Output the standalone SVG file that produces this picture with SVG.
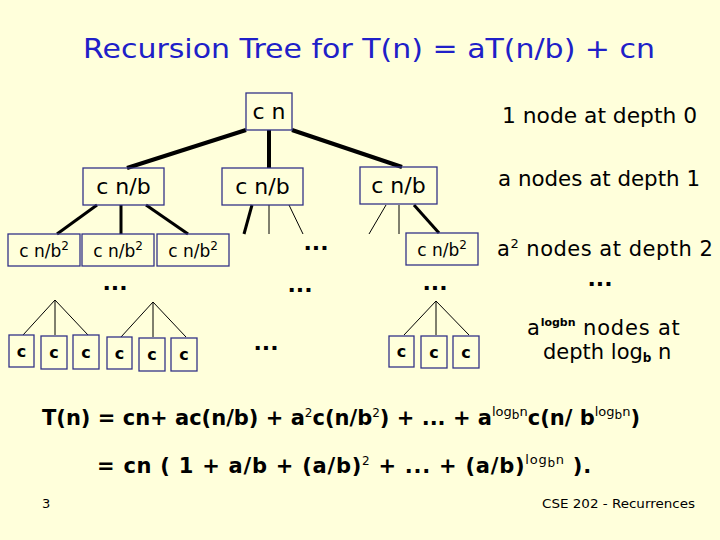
<svg xmlns="http://www.w3.org/2000/svg" width="720" height="540" viewBox="0 0 720 540">
<style>
text{font-family:"DejaVu Sans","Liberation Sans",sans-serif;fill:#000}
.title{fill:#2020c8;font-size:27px}
.box{fill:none;stroke:#333388;stroke-width:1.3}
.n1{font-size:22px;text-anchor:middle}
.n2{font-size:17px;text-anchor:middle}
.leaf{font-size:16px;font-weight:bold;text-anchor:middle}
.thick{stroke:#000;stroke-width:4;fill:none}
.med{stroke:#000;stroke-width:3;fill:none}
.thin{stroke:#000;stroke-width:1;fill:none}
.dots{font-size:22px;font-weight:bold;text-anchor:middle}
.lbl{font-size:21px}
.eq{font-size:21px;font-weight:bold}
.foot{font-size:13px}
</style>
<rect width="720" height="540" fill="#ffffdb"/>
<text class="title" x="83" y="58" textLength="572" lengthAdjust="spacingAndGlyphs">Recursion Tree for T(n) = aT(n/b) + cn</text>

<g id="connectors">
<line class="thick" x1="246" y1="130" x2="127" y2="168"/>
<line class="thick" x1="269" y1="130" x2="269" y2="168"/>
<line class="thick" x1="292" y1="130" x2="402" y2="167"/>
<line class="med" x1="97" y1="205" x2="57" y2="234"/>
<line class="med" x1="121" y1="205" x2="121" y2="234"/>
<line class="med" x1="146" y1="205" x2="188" y2="234"/>
<line class="med" x1="252" y1="205" x2="244" y2="234"/>
<line class="thin" x1="269" y1="205" x2="269" y2="234"/>
<line class="thin" x1="289" y1="205" x2="303" y2="234"/>
<line class="thin" x1="386" y1="205" x2="369" y2="234"/>
<line class="thin" x1="399" y1="205" x2="399" y2="234"/>
<line class="med" x1="414" y1="205" x2="439" y2="233"/>
<line class="thin" x1="55" y1="300" x2="23" y2="335"/>
<line class="thin" x1="55" y1="300" x2="55" y2="335"/>
<line class="thin" x1="55" y1="300" x2="88" y2="335"/>
<line class="thin" x1="153" y1="302" x2="121" y2="337"/>
<line class="thin" x1="153" y1="302" x2="153" y2="337"/>
<line class="thin" x1="153" y1="302" x2="186" y2="337"/>
<line class="thin" x1="436" y1="301" x2="404" y2="335"/>
<line class="thin" x1="436" y1="301" x2="436" y2="335"/>
<line class="thin" x1="436" y1="301" x2="469" y2="335"/>
</g>

<g id="root"><rect class="box" x="246" y="93" width="46" height="37"/><text class="n1" x="269" y="119">c n</text></g>
<g id="d1a"><rect class="box" x="83" y="168" width="81" height="37"/><text class="n1" x="123.5" y="194">c n/b</text></g>
<g id="d1b"><rect class="box" x="222" y="168" width="81" height="37"/><text class="n1" x="262.5" y="194">c n/b</text></g>
<g id="d1c"><rect class="box" x="360" y="167" width="77" height="37"/><text class="n1" x="398.5" y="193">c n/b</text></g>

<g id="d2a"><rect class="box" x="8" y="234" width="72" height="32"/><text class="n2" x="44" y="257">c n/b<tspan dy="-7" font-size="12">2</tspan></text></g>
<g id="d2b"><rect class="box" x="82" y="234" width="72" height="32"/><text class="n2" x="118" y="257">c n/b<tspan dy="-7" font-size="12">2</tspan></text></g>
<g id="d2c"><rect class="box" x="157" y="234" width="72" height="32"/><text class="n2" x="193" y="257">c n/b<tspan dy="-7" font-size="12">2</tspan></text></g>
<g id="d2d"><rect class="box" x="406" y="233" width="72" height="32"/><text class="n2" x="442" y="256">c n/b<tspan dy="-7" font-size="12">2</tspan></text></g>

<g id="leaf1"><rect class="box" x="9" y="335" width="25" height="32"/><text class="leaf" x="21.5" y="357">c</text></g>
<g id="leaf2"><rect class="box" x="41" y="336" width="26" height="33"/><text class="leaf" x="54" y="358">c</text></g>
<g id="leaf3"><rect class="box" x="73" y="335" width="26" height="34"/><text class="leaf" x="86" y="358">c</text></g>
<g id="leaf4"><rect class="box" x="107" y="337" width="25" height="32"/><text class="leaf" x="119.5" y="359">c</text></g>
<g id="leaf5"><rect class="box" x="139" y="338" width="26" height="33"/><text class="leaf" x="152" y="360">c</text></g>
<g id="leaf6"><rect class="box" x="171" y="338" width="26" height="33"/><text class="leaf" x="184" y="360">c</text></g>
<g id="leaf7"><rect class="box" x="389" y="336" width="25" height="31"/><text class="leaf" x="401.5" y="357">c</text></g>
<g id="leaf8"><rect class="box" x="421" y="336" width="26" height="32"/><text class="leaf" x="434" y="358">c</text></g>
<g id="leaf9"><rect class="box" x="453" y="336" width="26" height="32"/><text class="leaf" x="466" y="358">c</text></g>

<text class="dots" x="316" y="250">...</text>
<text class="dots" x="115" y="290">...</text>
<text class="dots" x="300" y="292">...</text>
<text class="dots" x="435" y="290">...</text>
<text class="dots" x="266" y="350">...</text>
<text class="dots" x="600" y="286">...</text>

<text class="lbl" x="502" y="123" textLength="195" lengthAdjust="spacingAndGlyphs">1 node at depth 0</text>
<text class="lbl" x="498" y="186" textLength="202" lengthAdjust="spacingAndGlyphs">a nodes at depth 1</text>
<text class="lbl" x="497" y="256" letter-spacing="0.5">a<tspan font-size="13" dy="-8">2</tspan><tspan dy="8"> nodes at depth 2</tspan></text>
<text class="lbl" x="527" y="335" letter-spacing="0.8">a<tspan font-size="11" font-weight="bold" dy="-9" letter-spacing="0">logbn</tspan><tspan dy="9"> nodes at</tspan></text>
<text class="lbl" x="543" y="359">depth log<tspan font-size="12" font-weight="bold" dy="3">b</tspan><tspan dy="-3"> n</tspan></text>

<text class="eq" x="42" y="425">T(n) = cn+ ac(n/b) + a<tspan font-size="12" font-weight="normal" dy="-8">2</tspan><tspan dy="8">c(n/b</tspan><tspan font-size="12" font-weight="normal" dy="-8">2</tspan><tspan dy="8">) + ... + a</tspan><tspan font-size="13" font-weight="normal" dy="-9">log</tspan><tspan font-size="12" font-weight="normal" dy="3">b</tspan><tspan font-size="13" font-weight="normal" dy="-3">n</tspan><tspan dy="9">c(n/ b</tspan><tspan font-size="13" font-weight="normal" dy="-9">log</tspan><tspan font-size="12" font-weight="normal" dy="3">b</tspan><tspan font-size="13" font-weight="normal" dy="-3">n</tspan><tspan dy="9">)</tspan></text>
<text class="eq" x="97" y="473" letter-spacing="0.75">= cn ( 1 + a/b + (a/b)<tspan font-size="12" font-weight="normal" dy="-8">2</tspan><tspan dy="8"> + ... + (a/b)</tspan><tspan font-size="13" font-weight="normal" dy="-9">log</tspan><tspan font-size="12" font-weight="normal" dy="3">b</tspan><tspan font-size="13" font-weight="normal" dy="-3">n</tspan><tspan dy="9"> ).</tspan></text>

<text class="foot" x="42" y="508">3</text>
<text class="foot" x="542" y="508" textLength="153" lengthAdjust="spacingAndGlyphs">CSE 202 - Recurrences</text>
</svg>
